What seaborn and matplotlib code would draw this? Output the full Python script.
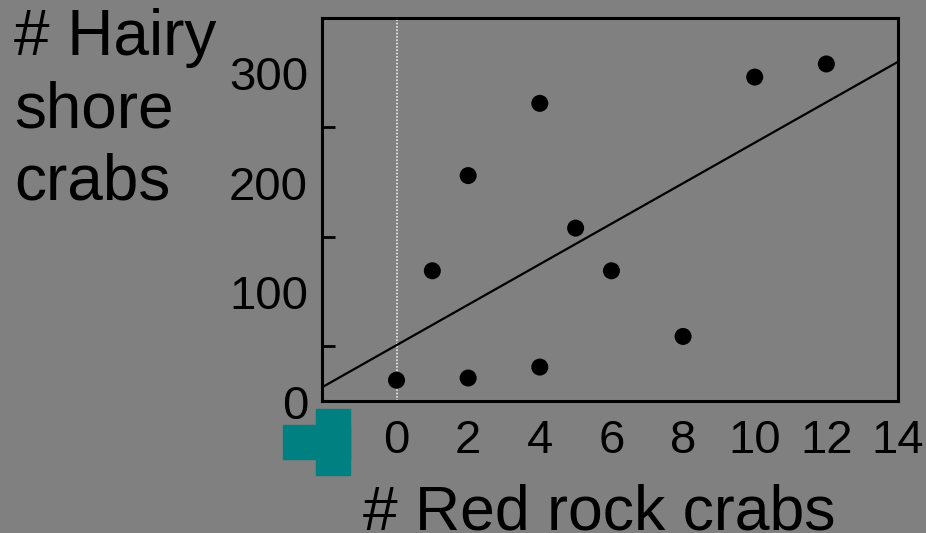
import matplotlib
matplotlib.use("Agg")
import matplotlib.pyplot as plt
from matplotlib.patches import Rectangle
from matplotlib.transforms import ScaledTranslation
import seaborn as sns
import pandas as pd

# Counts per site
red_rock = [0, 1, 2, 2, 4, 4, 5, 6, 8, 10, 12]
hairy_shore = [19, 119, 206, 21, 272, 31, 158, 119, 59, 296, 308]

# Least-squares line as published with the figure
fit_intercept = 51
fit_slope = 18.5

x_ticks = [0, 2, 4, 6, 8, 10, 12, 14]
y_ticks = [0, 100, 200, 300]
y_minor = [50, 150, 250]

df = pd.DataFrame({"red": red_rock, "hairy": hairy_shore})

sns.set_style("white")
plt.rcParams["font.family"] = ["Liberation Sans", "DejaVu Sans"]

bg = "#808080"
fig = plt.figure(figsize=(9.26, 5.33), dpi=100, facecolor=bg)
W, H = 926, 533
ax = fig.add_axes([322 / W, (H - 401) / H, 576 / W, 383 / H])
ax.set_facecolor(bg)

ax.axvline(0, color="#ececec", lw=1.2, ls=(0, (1, 1)), zorder=1)
ax.axline((0, fit_intercept), slope=fit_slope, color="black", lw=1.6, zorder=2)
sns.scatterplot(data=df, x="red", y="hairy", ax=ax, color="black", s=150,
                edgecolor="none", zorder=3, legend=False)

ax.set_xlim(-2.08, 14)
ax.set_ylim(0, 350)
ax.set_xticks(x_ticks)
ax.set_yticks(y_ticks)
ax.set_yticks(y_minor, minor=True)
ax.set_xlabel("")
ax.set_ylabel("")

for side in ["left", "right", "top", "bottom"]:
    ax.spines[side].set_visible(True)
    ax.spines[side].set_color("black")
    ax.spines[side].set_linewidth(2.2)

ax.tick_params(axis="both", which="both", direction="in", length=9.5, width=2.0,
               color="black", labelcolor="black", labelsize=34)
ax.tick_params(axis="x", pad=13, top=False)
ax.tick_params(axis="y", pad=10, right=False)
ax.tick_params(axis="y", which="minor", left=True, right=False)
ax.xaxis.set_tick_params(which="minor", bottom=False)

# nudge the value labels on the y axis slightly downward
shift = ScaledTranslation(0, -4 / 72, fig.dpi_scale_trans)
for lab in ax.get_yticklabels():
    lab.set_verticalalignment("center")
    lab.set_transform(lab.get_transform() + shift)

# Axis titles
fig.text(14 / W, 1 - 8 / H, "# Hairy\nshore\ncrabs", ha="left", va="top",
         fontsize=46, color="black", linespacing=1.26)
fig.text(599 / W, 4 / H, "# Red rock crabs", ha="center", va="baseline",
         fontsize=45, color="black")

# Teal corner marker
teal = "#008080"
fig.patches.append(Rectangle((283 / W, 1 - 459 / H), (350 - 283) / W, (459 - 425) / H,
                             transform=fig.transFigure, color=teal, zorder=5))
fig.patches.append(Rectangle((316 / W, 1 - 475 / H), (350 - 316) / W, (475 - 409) / H,
                             transform=fig.transFigure, color=teal, zorder=5))

fig.savefig("out.png", dpi=100, facecolor=bg)
